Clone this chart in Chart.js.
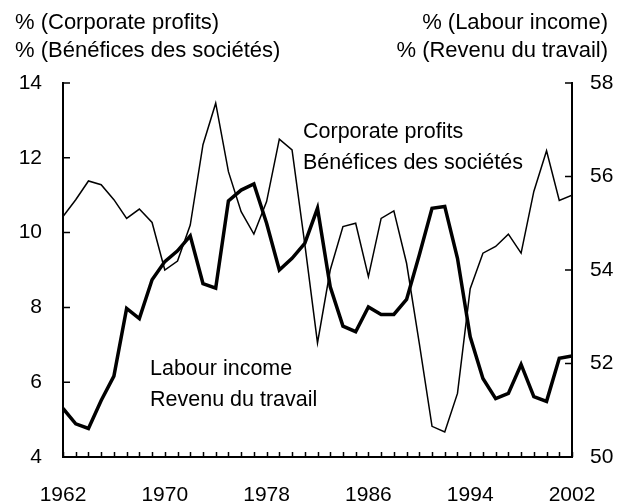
<!DOCTYPE html>
<html>
<head>
<meta charset="utf-8">
<script src="https://cdn.jsdelivr.net/npm/chart.js@4/dist/chart.umd.min.js"></script>
<style>
  html, body { margin: 0; padding: 0; background: #fff; }
  canvas { display: block; }
</style>
</head>
<body>
<canvas id="chart" width="625" height="504"></canvas>
<script>
// years on the x axis
const years = [1962, 1963, 1964, 1965, 1966, 1967, 1968, 1969, 1970, 1971,
  1972, 1973, 1974, 1975, 1976, 1977, 1978, 1979, 1980, 1981,
  1982, 1983, 1984, 1985, 1986, 1987, 1988, 1989, 1990, 1991,
  1992, 1993, 1994, 1995, 1996, 1997, 1998, 1999, 2000, 2001, 2002];

// corporate profits, % (left axis)
const corporateProfits = [10.43, 10.88, 11.38, 11.28, 10.88, 10.38, 10.63, 10.27, 9.0, 9.24,
  10.2, 12.35, 13.46, 11.63, 10.56, 9.96, 10.83, 12.5, 12.21, 9.7,
  7.05, 9.0, 10.16, 10.25, 8.82, 10.38, 10.58, 9.18, 7.04, 4.82,
  4.67, 5.7, 8.5, 9.45, 9.63, 9.96, 9.45, 11.1, 12.19, 10.86, 11.0];

// labour income, % (right axis)
const labourIncome = [51.04, 50.71, 50.61, 51.21, 51.73, 53.18, 52.96, 53.79, 54.18, 54.41,
  54.73, 53.71, 53.61, 55.48, 55.71, 55.84, 55.0, 54.0, 54.25, 54.57,
  55.32, 53.64, 52.8, 52.68, 53.21, 53.05, 53.05, 53.37, 54.32, 55.32,
  55.36, 54.25, 52.57, 51.68, 51.25, 51.36, 51.98, 51.29, 51.19, 52.11, 52.16];

const FONT = 'Liberation Sans, Arial, sans-serif';

// titles and in-chart labels, plus the inward tick marks
const decorations = {
  id: 'decorations',
  afterDraw(chart) {
    const ctx = chart.ctx;
    const x = chart.scales.x, y = chart.scales.y, y1 = chart.scales.y1;
    ctx.save();
    ctx.fillStyle = '#000';
    ctx.textBaseline = 'alphabetic';
    ctx.font = '22px ' + FONT;
    ctx.textAlign = 'left';
    ctx.fillText('% (Corporate profits)', 15, 29);
    ctx.fillText('% (Bénéfices des sociétés)', 15, 57);
    ctx.textAlign = 'right';
    ctx.fillText('% (Labour income)', 608, 29);
    ctx.fillText('% (Revenu du travail)', 608, 57);

    ctx.font = '21.5px ' + FONT;
    ctx.textAlign = 'left';
    ctx.fillText('Corporate profits', 303, 138);
    ctx.fillText('Bénéfices des sociétés', 303, 169);
    ctx.fillText('Labour income', 150, 375);
    ctx.fillText('Revenu du travail', 150, 406);

    // tick marks pointing into the plot
    ctx.strokeStyle = '#000';
    ctx.lineWidth = 1.5;
    ctx.beginPath();
    for (const yr of years) {
      const px = Math.round(x.getPixelForValue(yr)) + 0.5;
      ctx.moveTo(px, x.top);
      ctx.lineTo(px, x.top - 5);
    }
    for (const t of y.ticks) {
      const py = y.getPixelForValue(t.value);
      ctx.moveTo(y.right, py);
      ctx.lineTo(y.right + 7, py);
    }
    for (const t of y1.ticks) {
      const py = y1.getPixelForValue(t.value);
      ctx.moveTo(y1.left, py);
      ctx.lineTo(y1.left - 7, py);
    }
    ctx.stroke();
    ctx.restore();
  }
};

const tickFont = { family: FONT, size: 21 };

new Chart(document.getElementById('chart'), {
  type: 'line',
  data: {
    labels: years,
    datasets: [
      {
        label: 'Corporate profits',
        data: years.map((yr, i) => ({ x: yr, y: corporateProfits[i] })),
        yAxisID: 'y',
        borderColor: '#000',
        borderWidth: 1.5,
        pointRadius: 0,
        tension: 0,
        fill: false
      },
      {
        label: 'Labour income',
        data: years.map((yr, i) => ({ x: yr, y: labourIncome[i] })),
        yAxisID: 'y1',
        borderColor: '#000',
        borderWidth: 3.5,
        pointRadius: 0,
        tension: 0,
        fill: false
      }
    ]
  },
  options: {
    responsive: false,
    devicePixelRatio: 1,
    animation: false,
    layout: { padding: { top: 83, left: 0, right: 0, bottom: 0 } },
    plugins: { legend: { display: false }, tooltip: { enabled: false } },
    scales: {
      x: {
        type: 'linear',
        min: 1962,
        max: 2002,
        grid: { display: false, drawTicks: false },
        border: { display: true, color: '#000', width: 2 },
        ticks: { stepSize: 8, font: tickFont, color: '#000', padding: 26, maxRotation: 0,
          callback: v => String(v) },
        afterFit: s => { s.height = 47; }
      },
      y: {
        position: 'left',
        min: 4,
        max: 14,
        grid: { display: false, drawTicks: false },
        border: { display: true, color: '#000', width: 2 },
        ticks: { stepSize: 2, font: tickFont, color: '#000', padding: 21 },
        afterFit: s => { s.width = 63; }
      },
      y1: {
        position: 'right',
        min: 50,
        max: 58,
        grid: { display: false, drawTicks: false },
        border: { display: true, color: '#000', width: 2 },
        ticks: { stepSize: 2, font: tickFont, color: '#000', padding: 18 },
        afterFit: s => { s.width = 53; }
      }
    }
  },
  plugins: [decorations]
});
</script>
</body>
</html>
